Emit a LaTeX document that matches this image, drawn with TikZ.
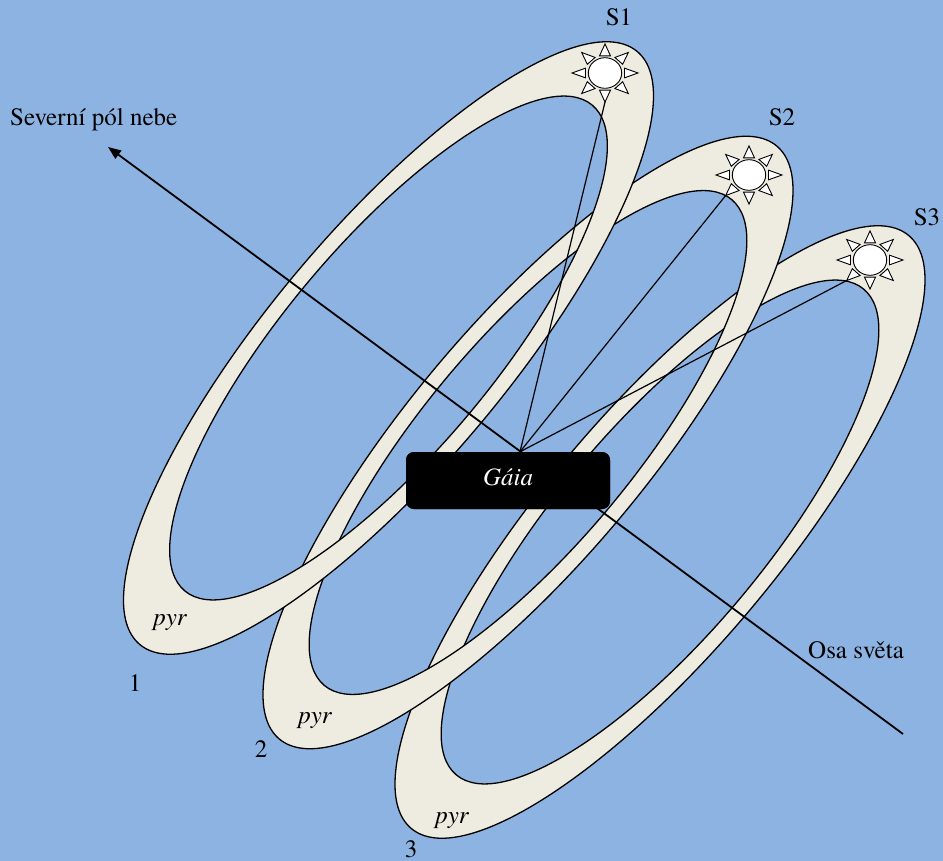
\documentclass[tikz,border=0pt]{standalone}
\usepackage{fontspec}
\setmainfont{texgyretermes}[Extension=.otf, UprightFont=*-regular, ItalicFont=*-italic, BoldFont=*-bold, BoldItalicFont=*-bolditalic]
\usetikzlibrary{arrows.meta}
\definecolor{skyblue}{RGB}{141,179,226}
\definecolor{ringfill}{RGB}{238,236,225}
\tikzset{
  ringstyle/.style={fill=ringfill, draw=black, line width=1.3pt, even odd rule},
  ring/.pic={
    \path[ringstyle, rotate=50] (0,0) ellipse [x radius=387pt, y radius=119pt]
                                (0,0) ellipse [x radius=317pt, y radius=104pt];
  },
  sunray/.style={fill=white, draw=black, line width=0.9pt, line join=miter},
  sun/.pic={
    \begin{scope}[yscale=0.88]
      \foreach \t in {0,45,...,315}
        \draw[sunray, rotate=\t] (19.5pt,-5.5pt) -- (33pt,0pt) -- (19.5pt,5.5pt) -- cycle;
      \coordinate (-b) at (270:33pt);
      \coordinate (-ll) at (225:33pt);
    \end{scope}
    \draw[sunray] (0,0) ellipse [x radius=16.7pt, y radius=15.3pt];
  },
  lbl/.style={inner sep=0pt, font=\fontsize{25}{30}\selectfont},
  gaiabox/.style={fill=black, rounded corners=8pt, minimum width=204pt, minimum height=57pt, inner sep=0pt},
  axisline/.style={line width=1.8pt, -{Triangle[length=13pt,width=10pt]}},
  sunline/.style={line width=1.2pt}
}
\begin{document}
\begin{tikzpicture}[x=1pt, y=-1pt]
  \useasboundingbox (0,0) rectangle (943,861);
  \fill[skyblue] (0,0) rectangle (943,861);
  % rings (back to front)
  \pic (r3) at (660,532) {ring};
  \pic (r2) at (528,442.5) {ring};
  \pic (r1) at (388.5,348) {ring};
  % Gaia box
  \node[gaiabox] (gaia) at (508,480.5) {};
  \coordinate (apex) at ([xshift=12pt]gaia.north);
  % axis
  \coordinate (axisend) at (903,734);
  \coordinate (pole) at (108,147);
  \draw[axisline] (axisend) -- (pole);
  \node[gaiabox] at (gaia.center) {};
  \node[lbl, anchor=base, text=white] (gaiatext) at (508,485) {\itshape Gáia};
  % suns
  \pic (s1) at (605,73) {sun};
  \pic (s2) at (749,175) {sun};
  \pic (s3) at (870,260) {sun};
  \draw[sunline] (s1-b) -- (apex);
  \draw[sunline] (s2-ll) -- (apex);
  \draw[sunline] (s3-ll) -- (apex);
  % labels
  \node[lbl, anchor=base] (lS1) at (619,26) {S1};
  \node[lbl, anchor=base] (lS2) at (782,126) {S2};
  \node[lbl, anchor=base] (lS3) at (927,226) {S3};
  \node[lbl, anchor=base west] (lpole) at (10,126) {Severní pól nebe};
  \node[lbl, anchor=base west] (laxis) at (808,658) {Osa světa};
  \node[lbl, anchor=base] (p1) at (170,625) {\itshape pyr};
  \node[lbl, anchor=base] (p2) at (315,723) {\itshape pyr};
  \node[lbl, anchor=base] (p3) at (452,823) {\itshape pyr};
  \node[lbl, anchor=base] (n1) at (135,691) {1};
  \node[lbl, anchor=base] (n2) at (261,757) {2};
  \node[lbl, anchor=base] (n3) at (411,857) {3};
\end{tikzpicture}
\end{document}
